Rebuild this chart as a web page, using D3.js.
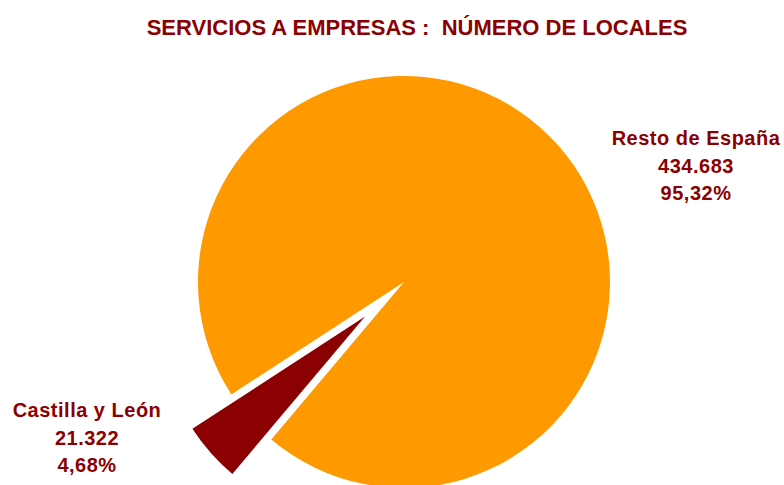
<!DOCTYPE html>
<meta charset="utf-8">
<style>
body { margin: 0; background: #fff; }
text { font-family: "Liberation Sans", Arial, sans-serif; font-weight: bold; fill: #8b0000; }
</style>
<script src="https://d3js.org/d3.v7.min.js"></script>
<div id="chart"></div>
<script>
// data
var categories = ["Castilla y León", "Resto de España"];
var locales = [21322, 434683];
var valueLabels = ["21.322", "434.683"];
var pctLabels = ["4,68%", "95,32%"];
var colors = ["#8b0000", "#ff9900"];

var width = 784, height = 485;
var cx = 404, cy = 282, radius = 206;
var explode = 52;

var svg = d3.select("#chart")
  .append("svg")
    .attr("width", width)
    .attr("height", height);

svg.append("text")
  .attr("x", 417)
  .attr("y", 35)
  .attr("text-anchor", "middle")
  .style("font-size", "22px")
  .style("white-space", "pre")
  .text("SERVICIOS A EMPRESAS :  NÚMERO DE LOCALES");

var data = categories.map(function(c, i) {
  return {name: c, value: locales[i], num: valueLabels[i], pct: pctLabels[i], color: colors[i]};
});

var start = 220.1 * Math.PI / 180;
var pie = d3.pie()
  .sort(null)
  .value(function(d) { return d.value; })
  .startAngle(start)
  .endAngle(start + 2 * Math.PI);

var arc = d3.arc().innerRadius(0).outerRadius(radius);

var g = svg.append("g")
  .attr("transform", "translate(" + cx + "," + cy + ")");

g.selectAll("path")
  .data(pie(data))
  .enter()
  .append("path")
    .attr("d", arc)
    .attr("fill", function(d) { return d.data.color; })
    .attr("transform", function(d, i) {
      if (i != 0) return null;
      var a = (d.startAngle + d.endAngle) / 2;
      return "translate(" + (Math.sin(a) * explode) + "," + (-Math.cos(a) * explode) + ")";
    });

// labels
var labelPos = [[87, 417], [696, 145]];
data.forEach(function(d, i) {
  var t = svg.append("text")
    .attr("text-anchor", "middle")
    .style("font-size", "20px")
    .style("letter-spacing", "0.5px");
  [d.name, d.num, d.pct].forEach(function(s, j) {
    t.append("tspan")
      .attr("x", labelPos[i][0])
      .attr("y", labelPos[i][1] + j * 27.5)
      .text(s);
  });
});
</script>
